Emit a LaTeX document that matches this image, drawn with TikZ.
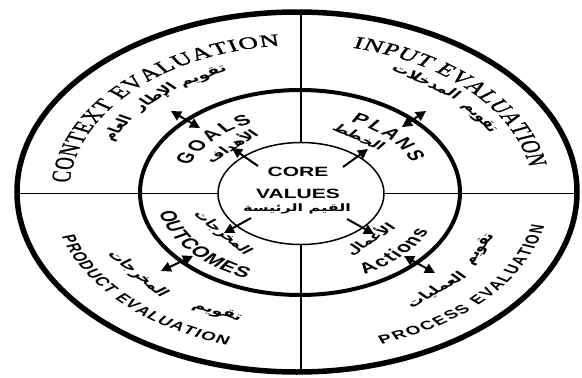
\documentclass[tikz,border=0pt]{standalone}
\usepackage{fontspec}
\setmainfont{Liberation Serif}
\newfontfamily\serifx[FakeBold=1.2]{Liberation Serif}
\newfontfamily\sansx{Liberation Sans}
\newfontfamily\arabicfont[Script=Arabic]{DejaVu Sans}
\TeXXeTstate=1
\usetikzlibrary{arrows.meta,shapes.geometric}
\newcommand\artxt[1]{{\arabicfont\bfseries\beginR #1\endR}}
\newdimen\ctw \newdimen\ctposd \newdimen\cttot
% #1 font, #2 size (pt), #3 baseline radius, #4 centre angle,
% #5 1 = tops outward / -1 = tops inward, #6 extra letter spacing (pt),
% #7 list of character/width (in em)
\newcommand\curvetext[7]{%
  \global\cttot=0pt
  \foreach \ctc/\ctwd in {#7}{%
    \pgfmathsetlength{\ctw}{\ctwd*#2+#6}%
    \global\advance\cttot by \ctw
  }%
  \global\advance\cttot by -#6pt
  \pgfmathparse{#4+(#5)*deg(\cttot/2/#3)}%
  \xdef\ctstart{\pgfmathresult}%
  \global\ctposd=0pt
  \foreach \ctc/\ctwd in {#7}{%
    \pgfmathparse{\ctstart-(#5)*deg((\ctposd+\ctwd*#2/2)/#3)}%
    \let\ctang\pgfmathresult
    \pgfmathparse{\ctang-90*(#5)}%
    \let\ctrot\pgfmathresult
    \node[inner sep=0pt, anchor=base, font=#1\fontsize{#2}{#2}\selectfont, rotate=\ctrot] at (\ctang:#3pt) {\ctc};
    \pgfmathsetlength{\ctw}{\ctwd*#2+#6}%
    \global\advance\ctposd by \ctw
  }%
}
\begin{document}
\begin{tikzpicture}[x=1pt,y=-1pt,
  ring/.style={draw, ellipse, inner sep=0pt, outer sep=0pt},
  thinline/.style={line width=1.2pt},
  sarrow/.style={line width=2pt,-{Triangle[length=10pt,width=10pt]}},
  darrow/.style={line width=2pt,{Triangle[length=10pt,width=10pt]}-{Triangle[length=10pt,width=10pt]}},
  core/.style={font=\sansx\bfseries\fontsize{21}{21}\selectfont, inner sep=0pt},
  arcore/.style={font=\fontsize{16}{16}\selectfont, inner sep=0pt},
  arlab/.style={font=\fontsize{17}{17}\selectfont, inner sep=0pt},
  arout/.style={font=\fontsize{18}{18}\selectfont, inner sep=0pt}
]
\useasboundingbox (0,0) rectangle (582,378);
\fill[white] (0,0) rectangle (582,378);
% rings
\node[ring, line width=5.5pt, minimum width=560pt, minimum height=360pt] (outer) at (297,192) {};
\node[ring, line width=4pt, minimum width=320pt, minimum height=205pt] (middle) at (300,192.5) {};
\node[ring, line width=1.5pt, minimum width=166pt, minimum height=102pt] (inner) at (301,193.5) {};
% dividing lines
\draw[thinline] (inner.north) -- (inner.north |- outer.north);
\draw[thinline] (inner.south) -- (inner.south |- outer.south);
\draw[thinline] (inner.west) -- (inner.west -| outer.west);
\draw[thinline] (inner.east) -- (inner.east -| outer.east);
% single arrows from the core
\coordinate (s1) at (258,166); \coordinate (e1) at (232,148);
\coordinate (s2) at (343,167); \coordinate (e2) at (368,149);
\coordinate (s3) at (251,218); \coordinate (e3) at (224,233);
\coordinate (s4) at (347,219); \coordinate (e4) at (374,234);
\draw[sarrow] (s1) -- (e1);
\draw[sarrow] (s2) -- (e2);
\draw[sarrow] (s3) -- (e3);
\draw[sarrow] (s4) -- (e4);
% double arrows across the middle ring
\coordinate (d1a) at (171,111); \coordinate (d1b) at (200,128);
\coordinate (d2a) at (426,111); \coordinate (d2b) at (402,127);
\coordinate (d3a) at (161,271); \coordinate (d3b) at (193,256);
\coordinate (d4a) at (404,256); \coordinate (d4b) at (435,273);
\draw[darrow] (d1a) -- (d1b);
\draw[darrow] (d2a) -- (d2b);
\draw[darrow] (d3a) -- (d3b);
\draw[darrow] (d4a) -- (d4b);
% texts, in circle coordinates squashed to the ellipse
\begin{scope}[transform canvas={shift={(300pt,-193pt)},yscale=0.64}, x=1pt, y=1pt]
  \node[core] (corew) at (-2,33) {CORE};
  \node[core] (valw) at (-2,-1.5) {VALUES};
  \node[arcore] (valar) at (-3,-24) {\artxt{القيم الرئيسة}};
  % outer ring titles
  \curvetext{\serifx}{27}{231}{135.5}{1}{1.1}{C/0.667,O/0.722,N/0.722,T/0.611,E/0.611,X/0.722,T/0.611,~/0.25,E/0.611,V/0.722,A/0.722,L/0.611,U/0.722,A/0.722,T/0.611,I/0.333,O/0.722,N/0.722}
  \curvetext{\serifx}{27}{233}{43.5}{1}{0.7}{I/0.333,N/0.722,P/0.556,U/0.722,T/0.611,~/0.25,E/0.611,V/0.722,A/0.722,L/0.611,U/0.722,A/0.722,T/0.611,I/0.333,O/0.722,N/0.722}
  \curvetext{\sansx\bfseries}{19}{248}{224.5}{-1}{1.4}{P/0.667,R/0.722,O/0.778,D/0.722,U/0.722,C/0.722,T/0.611,~/0.278,E/0.667,V/0.667,A/0.722,L/0.611,U/0.722,A/0.722,T/0.611,I/0.278,O/0.778,N/0.722}
  \curvetext{\sansx\bfseries}{19}{250}{318.5}{-1}{2.1}{P/0.667,R/0.722,O/0.778,C/0.722,E/0.667,S/0.667,S/0.667,~/0.278,E/0.667,V/0.667,A/0.722,L/0.611,U/0.722,A/0.722,T/0.611,I/0.278,O/0.778,N/0.722}
  % middle ring labels
  \curvetext{\sansx\bfseries}{23}{119}{136}{1}{3}{G/0.778,O/0.778,A/0.722,L/0.611,S/0.667}
  \curvetext{\sansx\bfseries}{23}{122}{44.5}{1}{3}{P/0.667,L/0.611,A/0.722,N/0.722,S/0.667}
  \curvetext{\sansx\bfseries}{23}{144}{220}{-1}{1.1}{O/0.778,U/0.722,T/0.611,C/0.722,O/0.778,M/0.833,E/0.667,S/0.667}
  \curvetext{\sansx\bfseries}{23}{142}{316}{-1}{1.6}{A/0.722,c/0.556,t/0.333,i/0.278,o/0.611,n/0.611,s/0.556}
  % Arabic in the middle ring
  \node[arlab, rotate=43] (goalsar) at (133:102pt) {\artxt{الأهداف}};
  \node[arlab, rotate=-35] (plansar) at (56:106pt) {\artxt{الخطط}};
  \node[arlab, rotate=-51] (outcar) at (219:100pt) {\artxt{المخرجات}};
  \node[arlab, rotate=44] (actar) at (314:100pt) {\artxt{الأعمال}};
  % Arabic in the outer ring
  \node[arout, rotate=29] (c1) at (118:206pt) {\artxt{تقويم}};
  \node[arout, rotate=44] (c2) at (134:208pt) {\artxt{الإطار}};
  \node[arout, rotate=61] (c3) at (151:208pt) {\artxt{العام}};
  \node[arout, rotate=-36] (i1) at (54:216pt) {\artxt{المدخلات}};
  \node[arout, rotate=-57] (i2) at (33:214pt) {\artxt{تقويم}};
  \node[arout, rotate=-52] (p1) at (218:206pt) {\artxt{المخرجات}};
  \node[arout, rotate=-24] (p2) at (246:204pt) {\artxt{تقويم}};
  \node[arout, rotate=64] (r1) at (334:200pt) {\artxt{تقويم}};
  \node[arout, rotate=42] (r2) at (312:204pt) {\artxt{العمليات}};
\end{scope}
\end{tikzpicture}
\end{document}
